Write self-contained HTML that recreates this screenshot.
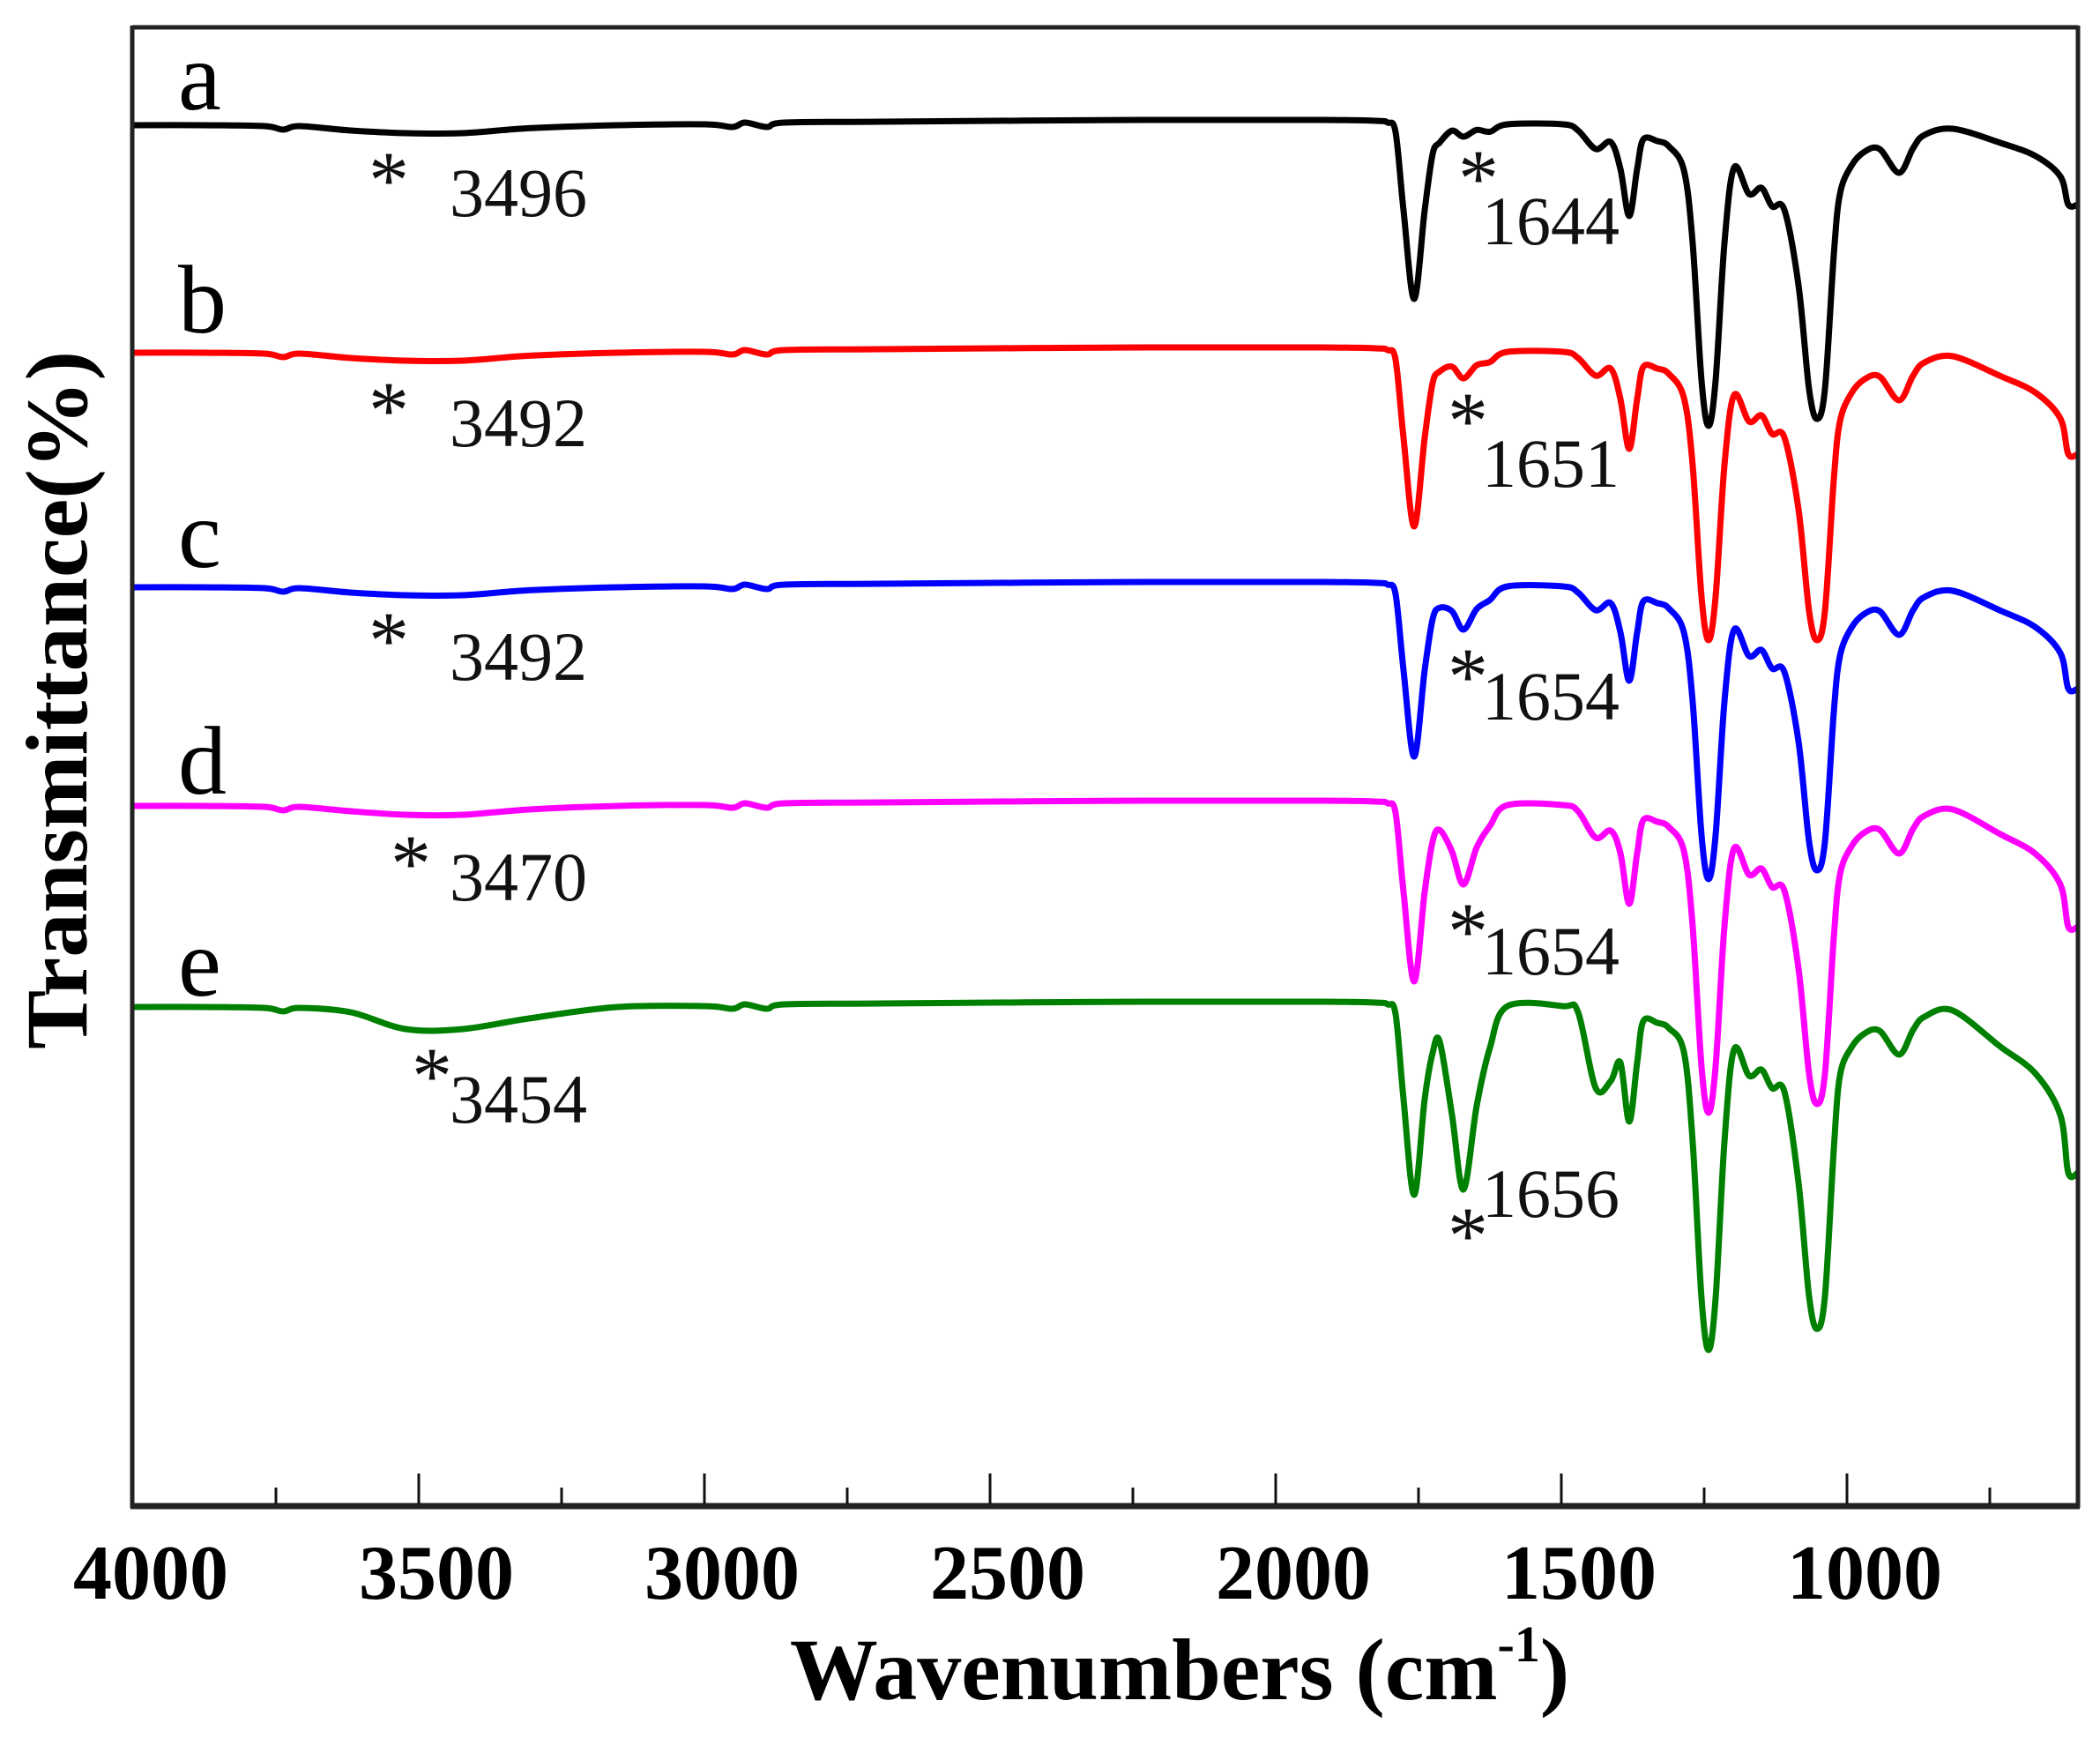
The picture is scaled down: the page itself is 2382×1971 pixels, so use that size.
<!DOCTYPE html>
<html><head><meta charset="utf-8"><style>
html,body{margin:0;padding:0;background:#fff;}
svg{display:block;}
text{font-family:"Liberation Serif","DejaVu Serif",serif;}
</style></head><body>
<svg id="s" xmlns="http://www.w3.org/2000/svg" width="2382" height="1971" viewBox="0 0 2382 1971">
<rect width="2382" height="1971" fill="#fff"/>
<g id="curves"></g>
<line x1="150" y1="31" x2="2357" y2="31" stroke="#222" stroke-width="5"/>
<line x1="150" y1="29" x2="150" y2="1710" stroke="#222" stroke-width="5"/>
<line x1="2357" y1="29" x2="2357" y2="1710" stroke="#222" stroke-width="5"/>
<line x1="148" y1="1708" x2="2359" y2="1708" stroke="#222" stroke-width="7"/>
<g id="ticks" stroke="#111" stroke-width="3"></g>
<g font-weight="bold" font-size="88" text-anchor="middle" fill="#000">
<text x="171" y="1813">4000</text>
<text x="495" y="1813">3500</text>
<text x="819" y="1813">3000</text>
<text x="1143" y="1813">2500</text>
<text x="1467" y="1813">2000</text>
<text x="1791" y="1813">1500</text>
<text x="2115" y="1813">1000</text>
</g>
<text x="1338" y="1927" font-weight="bold" font-size="100" text-anchor="middle">Wavenumbers (cm<tspan font-size="58" dy="-43">-1</tspan><tspan dy="43">)</tspan></text>
<text transform="translate(98,794) rotate(-90)" font-weight="bold" font-size="100" text-anchor="middle" textLength="792" lengthAdjust="spacingAndGlyphs">Transmittance(%)</text>
<g font-size="110" fill="#000">
<text x="202" y="124">a</text>
<text x="202" y="377">b</text>
<text x="202" y="643">c</text>
<text x="202" y="900">d</text>
<text x="202" y="1129">e</text>
</g>
<g font-size="78" fill="#111">
<text x="510" y="245">3496</text>
<text x="510" y="506">3492</text>
<text x="510" y="771">3492</text>
<text x="510" y="1021">3470</text>
<text x="510" y="1273">3454</text>
<text x="1681" y="277">1644</text>
<text x="1681" y="552">1651</text>
<text x="1681" y="816">1654</text>
<text x="1681" y="1105">1654</text>
<text x="1681" y="1380">1656</text>
</g>
<g font-size="92" fill="#111" text-anchor="middle">
<text x="441" y="235">*</text>
<text x="441" y="496">*</text>
<text x="441" y="757">*</text>
<text x="466" y="1010">*</text>
<text x="490" y="1251">*</text>
<text x="1677" y="233">*</text>
<text x="1665" y="508">*</text>
<text x="1665" y="798">*</text>
<text x="1665" y="1087">*</text>
<text x="1665" y="1432">*</text>
</g>
</svg>
<script>
(function(){
var NS="http://www.w3.org/2000/svg";
var tg=document.getElementById("ticks");
for(var i=1;i<14;i++){
  var w=4000-250*i; if(w<600)break;
  var x=151+(4000-w)*0.648;
  var len=(i%2==0)?35:19;
  var l=document.createElementNS(NS,"line");
  l.setAttribute("x1",x);l.setAttribute("x2",x);
  l.setAttribute("y1",1706);l.setAttribute("y2",1706-len);
  tg.appendChild(l);
}
function tmpl(p){
  var t=p.tail/94;
  return [[150,4],[230,4],[300,5],[321,9],[340,5],[398,10],[460,p.bb+4],[525,p.bb+4],[600,p.bb*0.6+2],[700,4],[800,3],[831,6],[845,1],[870,6],[890,1],[1000,0],[1300,-2],[1500,-2],[1560,-1],[1574,1],[1583,12],[1592,p.k1*0.5],[1604,p.k1],[1616,p.k1*0.5],[1625,35+0.1*p.k2],
  [1633,22+0.1*p.k2],[1647,0.6*p.k2],[1660,p.k2],[1675,0.55*p.k2],[1690,8+0.2*p.k2],[1710,3],[1773,3],[1790,10],[1810,p.sh],[1827,p.sh-8],[1838,p.k3*0.5],[1848,p.k3],[1857,p.k3*0.5],[1864,20],[1880,22],[1893,28],[1910,55],[1920,p.k4*0.4],[1930,p.k4*0.85],[1938,p.k4],[1946,p.k4*0.85],[1956,p.k4*0.4],[1967,52],[1984,82],[1998,75],[2010,96],[2024,100],[2040,p.k5*0.55],[2052,p.k5*0.9],[2061,p.k5],[2070,p.k5*0.9],[2080,p.k5*0.45],[2087,82],[2100,50],[2115,34],[2132,31],[2154,58],[2170,30],[2183,15],[2215,8],[2269,24*t],[2309,39*t],[2337,62*t],[2346,p.tail],[2357,p.tail]];
}
var curves=[
 {c:"#000000",base:138,k1:201,k2:17,sh:31,k3:107,k4:345,k5:337,tail:94,bb:9},
 {c:"#ff0000",base:396,k1:201,k2:33,sh:30,k3:113,k4:330,k5:330,tail:119,bb:9},
 {c:"#0000ff",base:662,k1:196,k2:52,sh:30,k3:110,k4:335,k5:325,tail:119,bb:9},
 {c:"#ff00ff",base:910,k1:203,k2:93,sh:40,k3:115,k4:352,k5:342,tail:141,bb:10},
 {c:"#008000",base:1138,k1:217,k2:211,sh:96,k3:134,k4:393,k5:369,tail:192,bb:25}
];
var g=document.getElementById("curves");
curves.forEach(function(p){
  var pts=tmpl(p).map(function(q){return [q[0],p.base+q[1]];});
  var d="M"+pts[0][0]+","+pts[0][1];
  for(var i=0;i<pts.length-1;i++){
    var p0=pts[Math.max(0,i-1)],p1=pts[i],p2=pts[i+1],p3=pts[Math.min(pts.length-1,i+2)];
    var c1x=p1[0]+(p2[0]-p0[0])/6,c1y=p1[1]+(p2[1]-p0[1])/6;
    var c2x=p2[0]-(p3[0]-p1[0])/6,c2y=p2[1]-(p3[1]-p1[1])/6;
    d+=" C"+c1x.toFixed(1)+","+c1y.toFixed(1)+" "+c2x.toFixed(1)+","+c2y.toFixed(1)+" "+p2[0]+","+p2[1].toFixed(1);
  }
  var path=document.createElementNS(NS,"path");
  path.setAttribute("d",d);path.setAttribute("fill","none");
  path.setAttribute("stroke",p.c);path.setAttribute("stroke-width","7");
  path.setAttribute("stroke-linejoin","round");
  g.appendChild(path);
});
})();
</script>
</body></html>
